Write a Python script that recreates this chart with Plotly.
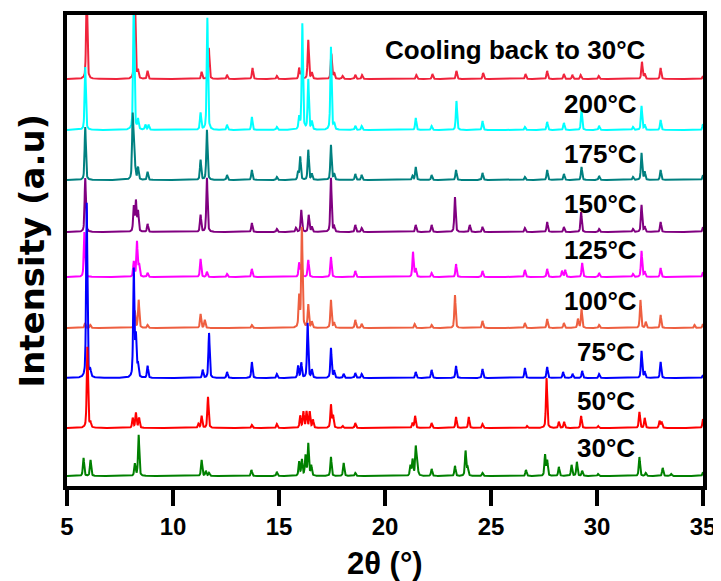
import numpy as np
import plotly.graph_objects as go

# ---- data: peak lists (2theta, height) ----
labels = ["Cooling back to 30°C", "200°C", "175°C", "150°C", "125°C",
          "100°C", "75°C", "50°C", "30°C"]
colors = ["#F0243C", "#00FFFF", "#008080", "#800080", "#FF00FF",
          "#EE5F40", "#0000FF", "#FF0000", "#008000"]
offsets = [407, 356, 306, 254, 209, 158, 108, 58, 10]

peaks_cool = [(5.93, 90), (8.2, 90), (8.35, 8), (8.8, 8), (11.35, 7), (11.69, 31),
              (12.55, 4), (13.75, 11), (14.9, 3), (15.95, 11), (16.05, 6), (16.38, 39),
              (16.55, 6), (17.47, 25), (17.6, 6), (18.0, 3), (18.6, 4), (18.92, 4),
              (21.48, 4), (22.24, 5), (23.37, 8), (24.63, 6), (26.63, 5), (27.65, 8),
              (28.44, 5), (28.84, 4), (29.23, 4), (30.08, 3), (32.12, 17), (32.25, 5),
              (33.0, 11), (35.0, 3)]
peaks_200 = [(5.86, 63), (8.15, 130), (8.35, 10), (8.7, 5), (8.85, 5), (11.3, 17),
             (11.62, 112), (12.55, 5), (13.72, 13), (14.9, 3), (15.95, 12), (16.1, 106),
             (16.38, 50), (16.55, 8), (17.45, 83), (17.6, 6), (18.6, 4), (18.9, 4),
             (21.45, 12), (22.2, 4), (23.37, 29), (24.6, 9), (26.6, 3), (27.65, 8),
             (28.44, 7), (29.27, 20), (30.1, 4), (31.7, 3), (32.1, 24), (32.25, 5),
             (33.0, 10), (35.0, 6)]
peaks_175 = [(5.86, 53), (8.1, 62), (8.17, 40), (8.35, 12), (8.8, 8), (11.3, 20),
             (11.6, 50), (12.55, 5), (13.72, 10), (14.9, 3), (15.9, 8), (16.0, 23),
             (16.38, 30), (16.55, 6), (17.45, 35), (17.6, 6), (18.6, 6), (18.9, 5),
             (21.3, 4), (21.45, 13), (22.2, 5), (23.35, 10), (24.6, 7), (26.6, 3),
             (27.65, 10), (28.44, 6), (29.27, 13), (30.1, 4), (31.7, 3), (32.1, 27),
             (32.25, 8), (33.0, 10), (35.0, 5)]
peaks_150 = [(5.86, 54), (8.15, 25), (8.25, 30), (8.35, 20), (8.8, 8), (11.3, 17),
             (11.6, 54), (13.72, 9), (14.9, 3), (15.8, 4), (16.05, 22), (16.4, 17),
             (16.55, 5), (17.45, 54), (17.6, 5), (18.6, 7), (18.9, 4), (21.45, 7),
             (22.2, 7), (23.3, 35), (24.0, 7), (24.6, 5), (26.6, 4), (27.65, 10),
             (28.44, 5), (29.25, 20), (30.1, 3), (31.7, 3), (32.1, 27), (32.25, 5),
             (33.0, 10), (35.0, 5)]
peaks_125 = [(5.82, 45), (8.15, 15), (8.3, 35), (8.4, 12), (8.8, 4), (11.3, 18),
             (11.6, 5), (12.55, 3), (13.72, 8), (15.95, 14), (16.05, 12), (16.38, 17),
             (17.45, 20), (18.6, 6), (21.32, 25), (21.45, 8), (22.2, 4), (23.35, 13),
             (24.6, 6), (26.6, 7), (27.65, 8), (28.35, 6), (28.5, 7), (29.3, 14),
             (30.1, 4), (31.7, 3), (32.1, 26), (32.25, 5), (33.0, 9), (35.0, 5)]
peaks_100 = [(5.85, 5), (6.1, 3), (8.2, 17), (8.38, 28), (8.8, 3), (11.3, 14),
             (11.5, 8), (13.72, 3), (15.95, 31), (16.08, 100), (16.38, 23), (16.55, 6),
             (17.45, 28), (17.6, 5), (18.6, 8), (18.9, 4), (21.4, 4), (22.2, 3),
             (23.3, 33), (24.6, 7), (26.6, 5), (27.65, 9), (28.44, 5), (29.1, 9),
             (29.27, 19), (30.1, 3), (32.05, 28), (32.3, 6), (33.0, 13), (34.6, 3),
             (35.0, 4)]
peaks_75 = [(5.93, 175), (6.1, 6), (8.15, 108), (8.25, 40), (8.35, 12), (8.8, 12),
            (11.4, 8), (11.7, 45), (12.55, 6), (13.72, 16), (14.9, 4), (15.9, 12),
            (16.05, 15), (16.35, 55), (16.55, 8), (17.45, 30), (17.6, 7), (18.05, 4),
            (18.6, 5), (18.9, 4), (21.45, 6), (22.2, 8), (23.35, 12), (24.6, 9),
            (26.6, 10), (27.65, 11), (28.4, 6), (28.85, 4), (29.3, 7), (30.1, 4),
            (32.1, 27), (32.25, 6), (33.0, 16), (35.0, 3)]
peaks_50 = [(5.96, 81), (6.1, 5), (8.1, 10), (8.25, 15), (8.4, 10), (11.2, 4),
            (11.35, 12), (11.65, 31), (13.72, 3), (14.9, 4), (16.0, 12), (16.15, 16),
            (16.3, 16), (16.45, 16), (16.6, 8), (17.45, 23), (17.55, 12), (18.0, 2),
            (18.6, 5), (21.3, 5), (21.42, 12), (22.2, 5), (23.35, 11), (23.95, 11),
            (24.6, 4), (26.7, 2), (27.62, 50), (28.2, 6), (28.45, 6), (29.25, 12),
            (30.05, 2), (32.0, 16), (32.25, 10), (32.95, 7), (33.05, 6), (35.0, 9)]
peaks_30 = [(5.78, 18), (6.11, 16), (8.2, 12), (8.38, 41), (11.35, 16), (11.55, 5),
            (11.7, 3), (13.7, 6), (14.9, 4), (15.95, 14), (16.08, 16), (16.25, 20),
            (16.38, 32), (16.52, 10), (17.45, 19), (18.05, 13), (18.6, 3), (21.2, 10),
            (21.3, 16), (21.45, 28), (21.52, 15), (22.2, 7), (23.3, 10), (23.8, 25),
            (23.9, 8), (24.6, 3), (26.65, 6), (27.55, 21), (27.65, 15), (28.2, 9),
            (28.8, 11), (29.05, 14), (29.3, 5), (30.05, 2), (32.0, 19), (32.3, 3),
            (33.1, 8), (33.5, 2), (35.0, 4)]

peak_sets = [peaks_cool, peaks_200, peaks_175, peaks_150, peaks_125,
             peaks_100, peaks_75, peaks_50, peaks_30]

x_ticks = [5, 10, 15, 20, 25, 30, 35]

# ---- build profiles from the peak lists ----
two_theta = np.arange(5.0, 35.0001, 0.01)
fwhm = 0.07


def profile(peaks):
    y = np.zeros_like(two_theta)
    g = fwhm / 2.0
    for pos, h in peaks:
        d = two_theta - pos
        lor = 1.0 / (1.0 + (d / g) ** 2)
        gau = np.exp(-np.log(2) * (d / g) ** 2)
        y += h * (0.5 * lor + 0.5 * gau)
    return y


fig = go.Figure()
for lab, col, off, pk in zip(labels, colors, offsets, peak_sets):
    fig.add_trace(go.Scatter(x=two_theta, y=profile(pk) + off, mode="lines",
                             line=dict(color=col, width=2), name=lab,
                             showlegend=False, hoverinfo="skip"))

label_x = [32.4, 32.0, 32.0, 32.0, 32.0, 32.0, 31.9, 31.9, 31.9]
label_gap = [29, 26, 26, 28, 27, 27, 26, 27, 28]
for lab, off, lx, gap in zip(labels, offsets, label_x, label_gap):
    fig.add_annotation(x=lx, y=off + gap, xref="x", yref="y", text=lab,
                       showarrow=False, xanchor="right", yanchor="middle",
                       font=dict(family="Liberation Sans, Arial", size=26,
                                 color="black", weight="bold"))

# axis titles as annotations for exact placement
fig.add_annotation(x=0.5, y=0, xref="paper", yref="paper", text="2θ (°)",
                   showarrow=False, xanchor="center", yanchor="middle", yshift=-77,
                   font=dict(family="Liberation Sans, Arial", size=31,
                             color="black", weight="bold"))
fig.add_annotation(x=0, y=0.5, xref="paper", yref="paper", text="Intensity (a.u)",
                   showarrow=False, xanchor="center", yanchor="middle", xshift=-36,
                   textangle=-90,
                   font=dict(family="DejaVu Sans", size=34,
                             color="black", weight="bold"))

# page body has an 8px margin: shrink the figure so the plot area lands
# at the same window pixels as the reference
fig.update_layout(
    width=713, height=573,
    margin=dict(l=59, r=18, t=7, b=95),
    paper_bgcolor="white", plot_bgcolor="white",
    font=dict(family="Liberation Sans, Arial", color="black"),
)
fig.update_xaxes(range=[5, 35], tickvals=x_ticks, ticks="outside", ticklen=16,
                 tickwidth=3.5, tickcolor="black", showline=True, linewidth=3.5,
                 linecolor="black", mirror=True, showgrid=False, zeroline=False,
                 automargin=False,
                 tickfont=dict(size=24, weight="bold", color="black"))
fig.update_yaxes(range=[0, 471], showticklabels=False, ticks="", showline=True,
                 linewidth=3.5, linecolor="black", mirror=True, showgrid=False,
                 zeroline=False, automargin=False)

fig.write_html("out.html")
